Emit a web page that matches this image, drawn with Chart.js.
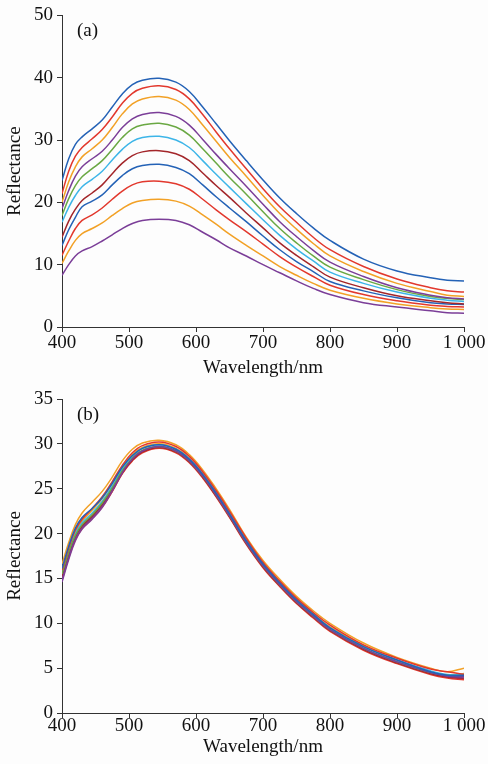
<!DOCTYPE html>
<html>
<head>
<meta charset="utf-8">
<title>Reflectance spectra</title>
<script src="https://cdn.jsdelivr.net/npm/chart.js@4.4.1/dist/chart.umd.min.js"></script>
<style>
    html, body { margin: 0; padding: 0; background: #fdfdfd; }
    canvas { display: block; }
</style>
</head>
<body>
<canvas id="chartA" width="488" height="380"></canvas>
<canvas id="chartB" width="488" height="384"></canvas>
<script>
// --- DATA ---
const wavelengths = [400, 410, 420, 430, 445, 460, 475, 490, 505, 520, 545, 570, 590, 610, 630, 650, 675, 700, 725, 750, 775, 800, 850, 900, 950, 975, 1000];
const xTickLabels = { 400: '400', 500: '500', 600: '600', 700: '700', 800: '800', 900: '900', 1000: '1 000' };

// panel (a)
const a1 = [23.5, 27.0, 29.3, 30.5, 31.8, 33.2, 35.3, 37.4, 38.9, 39.6, 39.9, 39.3, 37.8, 35.3, 32.6, 29.9, 26.7, 23.6, 20.7, 18.2, 15.9, 13.9, 10.9, 9.0, 7.9, 7.5, 7.4];
const a2 = [21.4, 25.0, 27.4, 28.8, 30.2, 31.7, 33.7, 35.9, 37.5, 38.3, 38.7, 38.1, 36.6, 34.1, 31.3, 28.6, 25.4, 22.2, 19.3, 16.8, 14.4, 12.4, 9.7, 7.7, 6.3, 5.8, 5.6];
const a3 = [20.0, 23.3, 25.7, 27.3, 28.6, 30.0, 32.0, 34.2, 35.8, 36.6, 37.0, 36.4, 34.9, 32.4, 29.8, 27.2, 24.2, 21.1, 18.2, 15.7, 13.4, 11.4, 8.9, 7.0, 5.7, 5.1, 4.9];
const a4 = [19.0, 21.9, 24.2, 25.7, 27.0, 28.2, 30.0, 32.0, 33.4, 34.1, 34.4, 33.8, 32.4, 30.1, 27.7, 25.4, 22.6, 19.7, 16.9, 14.5, 12.3, 10.4, 8.1, 6.3, 5.1, 4.7, 4.5];
const a5 = [17.9, 20.6, 22.7, 24.1, 25.4, 26.7, 28.5, 30.4, 31.8, 32.4, 32.7, 32.1, 30.8, 28.6, 26.3, 24.0, 21.3, 18.5, 15.8, 13.5, 11.4, 9.6, 7.6, 6.0, 4.9, 4.6, 4.4];
const a6 = [16.8, 19.2, 21.1, 22.5, 23.7, 25.0, 26.8, 28.5, 29.8, 30.4, 30.6, 30.0, 28.8, 26.7, 24.5, 22.4, 19.8, 17.2, 14.7, 12.5, 10.6, 8.8, 7.0, 5.6, 4.6, 4.3, 4.1];
const a7 = [14.4, 17.0, 18.9, 20.3, 21.5, 22.8, 24.6, 26.3, 27.5, 28.1, 28.3, 27.8, 26.7, 24.7, 22.7, 20.8, 18.3, 15.9, 13.5, 11.5, 9.7, 8.0, 6.3, 5.0, 4.2, 3.9, 3.7];
const a8 = [13.1, 15.6, 17.6, 19.3, 20.2, 21.2, 22.8, 24.3, 25.4, 25.9, 26.1, 25.6, 24.6, 22.8, 20.9, 19.1, 16.9, 14.6, 12.4, 10.5, 8.9, 7.3, 5.8, 4.7, 3.9, 3.7, 3.6];
const a9 = [11.5, 13.8, 15.8, 17.1, 18.0, 19.1, 20.5, 21.8, 22.8, 23.3, 23.4, 23.0, 22.1, 20.5, 18.8, 17.2, 15.3, 13.3, 11.3, 9.6, 8.1, 6.7, 5.2, 4.2, 3.5, 3.3, 3.2];
const a10 = [10.2, 12.2, 13.9, 15.0, 15.8, 16.7, 17.9, 19.0, 19.9, 20.3, 20.5, 20.2, 19.4, 18.0, 16.5, 14.9, 13.1, 11.4, 9.7, 8.3, 7.0, 5.9, 4.6, 3.7, 3.1, 2.9, 2.8];
const a11 = [8.3, 10.0, 11.4, 12.2, 12.9, 13.8, 14.8, 15.8, 16.6, 17.1, 17.3, 17.1, 16.4, 15.2, 14.0, 12.7, 11.4, 10.0, 8.7, 7.4, 6.2, 5.2, 3.9, 3.2, 2.6, 2.3, 2.2];

// panel (b)
const b1 = [16.1, 18.6, 20.6, 21.8, 22.8, 24.0, 25.6, 27.4, 28.7, 29.5, 29.9, 29.4, 28.3, 26.6, 24.5, 22.2, 19.2, 16.6, 14.5, 12.6, 11.0, 9.5, 7.4, 5.9, 4.6, 4.2, 4.2];
const b2 = [15.9, 18.4, 20.4, 21.6, 22.8, 24.1, 25.8, 27.6, 29.0, 29.8, 30.2, 29.7, 28.6, 26.9, 24.8, 22.5, 19.5, 16.8, 14.7, 12.8, 11.2, 9.8, 7.6, 6.1, 4.9, 4.6, 4.3];
const b3 = [16.6, 19.0, 21.0, 22.3, 23.5, 24.7, 26.3, 28.1, 29.4, 30.1, 30.4, 29.9, 28.8, 27.1, 25.0, 22.7, 19.6, 17.0, 14.9, 13.0, 11.4, 10.0, 7.8, 6.2, 5.0, 4.6, 5.0];
const b4 = [14.8, 17.3, 19.4, 20.6, 21.7, 23.0, 24.8, 26.8, 28.3, 29.2, 29.7, 29.2, 28.1, 26.4, 24.3, 22.0, 19.0, 16.4, 14.3, 12.4, 10.8, 9.3, 7.2, 5.7, 4.5, 4.1, 4.0];
const b5 = [15.5, 17.9, 19.8, 21.0, 22.1, 23.4, 25.1, 27.0, 28.4, 29.3, 29.7, 29.2, 28.1, 26.4, 24.3, 22.0, 19.0, 16.4, 14.3, 12.4, 10.8, 9.3, 7.2, 5.7, 4.5, 4.2, 4.2];
const b6 = [15.7, 18.1, 20.0, 21.2, 22.3, 23.6, 25.3, 27.2, 28.6, 29.5, 29.9, 29.4, 28.3, 26.6, 24.5, 22.2, 19.2, 16.6, 14.5, 12.6, 11.0, 9.5, 7.4, 5.9, 4.7, 4.3, 4.3];
const b7 = [15.2, 17.6, 19.6, 20.8, 21.9, 23.2, 24.9, 26.8, 28.2, 29.1, 29.6, 29.1, 28.0, 26.3, 24.2, 21.9, 18.9, 16.3, 14.2, 12.3, 10.7, 9.2, 7.1, 5.6, 4.4, 4.0, 3.9];
const b8 = [15.4, 17.8, 19.7, 20.9, 22.0, 23.3, 25.0, 26.9, 28.3, 29.2, 29.7, 29.2, 28.1, 26.4, 24.3, 22.0, 19.0, 16.4, 14.3, 12.4, 10.8, 9.3, 7.2, 5.7, 4.5, 4.1, 4.1];
const b9 = [15.0, 17.4, 19.4, 20.6, 21.7, 23.0, 24.7, 26.7, 28.1, 29.0, 29.5, 29.0, 27.9, 26.2, 24.1, 21.8, 18.8, 16.2, 14.1, 12.2, 10.6, 9.1, 7.0, 5.5, 4.3, 3.9, 3.7];
const b10 = [15.8, 18.2, 20.2, 21.4, 22.6, 23.9, 25.6, 27.4, 28.8, 29.6, 30.0, 29.5, 28.4, 26.7, 24.6, 22.3, 19.3, 16.7, 14.6, 12.7, 11.1, 9.6, 7.5, 5.9, 4.6, 4.1, 4.4];
const b11 = [14.6, 17.1, 19.2, 20.5, 21.6, 22.9, 24.7, 26.7, 28.2, 29.1, 29.6, 29.1, 28.0, 26.3, 24.2, 21.9, 18.9, 16.3, 14.2, 12.3, 10.7, 9.2, 7.1, 5.6, 4.4, 4.0, 3.8];

const seriesA = [a1, a2, a3, a4, a5, a6, a7, a8, a9, a10, a11];
const seriesB = [b1, b2, b3, b4, b5, b6, b7, b8, b9, b10, b11];
const seriesColors = ['#2462b6', '#e2382d', '#f2a126', '#7b3e98', '#6aa843', '#3db5e8', '#a3262a', '#2462b6', '#e2382d', '#f2a126', '#7b3e98'];

// --- STYLE ---
const FONT = '"Liberation Serif", "Times New Roman", serif';
const INK = '#111';

// draws the "(a)" / "(b)" tag inside the plot
const panelTag = {
    id: 'panelTag',
    afterDraw: (chart, args, opts) => {
        const ctx = chart.ctx;
        ctx.save();
        ctx.font = `19px ${FONT}`;
        ctx.fillStyle = INK;
        ctx.textBaseline = 'middle';
        ctx.fillText(opts.text, opts.x, opts.y);
        ctx.restore();
    }
};

const makeDatasets = (series) => series.map((vals, i) => ({
    label: 'S' + (i + 1),
    data: vals.map((v, k) => ({ x: wavelengths[k], y: v })),
    borderColor: seriesColors[i],
    borderWidth: 1.5,
    pointRadius: 0,
    tension: 0.4,
    fill: false
}));

const makeChart = (canvas, series, cfg) => new Chart(canvas, {
    type: 'line',
    data: { datasets: makeDatasets(series) },
    plugins: [panelTag],
    options: {
        responsive: false,
        animation: false,
        devicePixelRatio: 1,
        layout: { padding: { top: cfg.top, right: 24, left: 0, bottom: 0 } },
        plugins: {
            legend: { display: false },
            tooltip: { enabled: false },
            panelTag: cfg.tag
        },
        scales: {
            x: {
                type: 'linear',
                min: 400,
                max: 1000,
                afterFit: (s) => { s.height = cfg.xHeight; },
                border: { color: '#333', width: 1 },
                grid: { drawOnChartArea: false, drawTicks: true, tickLength: 5, color: '#333' },
                ticks: {
                    stepSize: 100,
                    padding: cfg.xPad,
                    color: INK,
                    font: { family: FONT, size: 19 },
                    maxRotation: 0,
                    callback: (v) => xTickLabels[v]
                },
                title: {
                    display: true,
                    text: 'Wavelength/nm',
                    color: INK,
                    font: { family: FONT, size: 19 },
                    padding: { top: 0, bottom: cfg.titlePad }
                }
            },
            y: {
                min: 0,
                max: cfg.yMax,
                afterFit: (s) => { s.width = 62; },
                border: { color: '#333', width: 1 },
                grid: { drawOnChartArea: false, drawTicks: true, tickLength: 5, color: '#333' },
                ticks: {
                    stepSize: cfg.yStep,
                    padding: 4,
                    color: INK,
                    font: { family: FONT, size: 19 }
                },
                title: {
                    display: true,
                    text: 'Reflectance',
                    color: INK,
                    font: { family: FONT, size: 19 },
                    padding: { top: 4, bottom: 0 }
                }
            }
        }
    }
});

// --- INIT ---
makeChart(document.getElementById('chartA'), seriesA, {
    top: 14, xHeight: 53, xPad: 0, titlePad: 1, yMax: 50, yStep: 10,
    tag: { text: '(a)', x: 77, y: 31 }
});
makeChart(document.getElementById('chartB'), seriesB, {
    top: 19, xHeight: 51, xPad: -3, titlePad: 6, yMax: 35, yStep: 5,
    tag: { text: '(b)', x: 77, y: 35 }
});
</script>
</body>
</html>
